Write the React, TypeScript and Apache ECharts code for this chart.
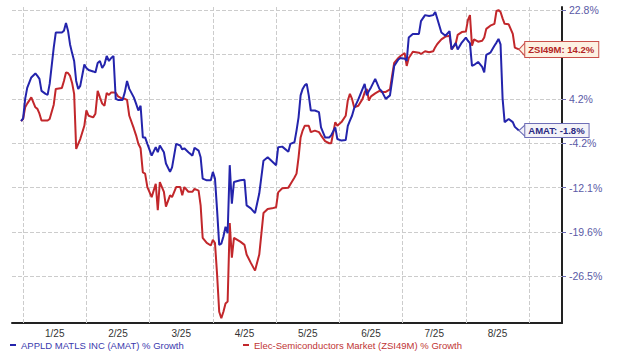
import React, { useEffect, useRef } from "react";
import * as echarts from "echarts";

// ---- data (percent growth since start) ----
const dates = [
  "2024-12-31", "2025-01-01", "2025-01-02", "2025-01-03", "2025-01-05", "2025-01-07", "2025-01-08", "2025-01-09",
  "2025-01-10", "2025-01-12", "2025-01-13", "2025-01-14", "2025-01-16", "2025-01-17", "2025-01-20", "2025-01-21",
  "2025-01-22", "2025-01-23", "2025-01-24", "2025-01-25", "2025-01-26", "2025-01-27", "2025-01-28", "2025-01-29",
  "2025-01-31", "2025-02-01", "2025-02-02", "2025-02-04", "2025-02-05", "2025-02-06", "2025-02-07", "2025-02-08",
  "2025-02-09", "2025-02-10", "2025-02-11", "2025-02-12", "2025-02-13", "2025-02-14", "2025-02-15", "2025-02-17",
  "2025-02-18", "2025-02-19", "2025-02-20", "2025-02-22", "2025-02-23", "2025-02-24", "2025-02-25", "2025-02-26",
  "2025-02-27", "2025-02-28", "2025-03-02", "2025-03-04", "2025-03-05", "2025-03-06", "2025-03-08", "2025-03-09",
  "2025-03-11", "2025-03-12", "2025-03-14", "2025-03-16", "2025-03-17", "2025-03-18", "2025-03-20", "2025-03-22",
  "2025-03-23", "2025-03-25", "2025-03-26", "2025-03-27", "2025-03-29", "2025-03-31", "2025-04-01", "2025-04-02",
  "2025-04-03", "2025-04-04", "2025-04-05", "2025-04-06", "2025-04-07", "2025-04-08", "2025-04-09", "2025-04-10",
  "2025-04-11", "2025-04-14", "2025-04-16", "2025-04-17", "2025-04-19", "2025-04-21", "2025-04-23", "2025-04-25",
  "2025-04-27", "2025-04-29", "2025-05-01", "2025-05-02", "2025-05-04", "2025-05-07", "2025-05-08", "2025-05-10",
  "2025-05-11", "2025-05-12", "2025-05-13", "2025-05-14", "2025-05-15", "2025-05-16", "2025-05-17", "2025-05-18",
  "2025-05-20", "2025-05-22", "2025-05-23", "2025-05-25", "2025-05-27", "2025-05-28", "2025-05-30", "2025-05-31",
  "2025-06-02", "2025-06-04", "2025-06-05", "2025-06-06", "2025-06-07", "2025-06-08", "2025-06-10", "2025-06-12",
  "2025-06-13", "2025-06-14", "2025-06-15", "2025-06-16", "2025-06-18", "2025-06-20", "2025-06-21", "2025-06-23",
  "2025-06-25", "2025-06-26", "2025-06-27", "2025-06-29", "2025-06-30", "2025-07-01", "2025-07-02", "2025-07-03",
  "2025-07-04", "2025-07-05", "2025-07-06", "2025-07-09", "2025-07-10", "2025-07-12", "2025-07-14", "2025-07-16",
  "2025-07-17", "2025-07-18", "2025-07-20", "2025-07-22", "2025-07-24", "2025-07-25", "2025-07-27", "2025-07-28",
  "2025-07-30", "2025-08-01", "2025-08-02", "2025-08-03", "2025-08-04", "2025-08-05", "2025-08-07", "2025-08-09",
  "2025-08-10", "2025-08-11", "2025-08-13", "2025-08-15", "2025-08-16", "2025-08-17", "2025-08-18", "2025-08-19",
  "2025-08-20", "2025-08-22", "2025-08-24", "2025-08-25", "2025-08-27",
];

const amatGrowth = [
  0.0, 0.5, 4.2, 6.4, 8.5, 9.3, 8.8, 8.2,
  5.8, 5.2, 5.0, 7.2, 14.6, 17.9, 17.9, 18.3,
  20.0, 18.3, 15.3, 13.4, 11.8, 7.8, 6.2, 6.8,
  11.1, 10.4, 10.0, 9.7, 9.5, 11.4, 11.8, 10.4,
  11.1, 12.8, 11.8, 12.4, 12.8, 4.2, 4.0, 4.0,
  5.5, 7.8, 6.2, 4.5, 3.3, 2.0, 2.9, -3.1,
  -3.1, -4.3, -6.4, -4.9, -5.8, -4.6, -5.8, -7.8,
  -9.3, -8.5, -4.3, -4.6, -5.3, -5.1, -5.8, -6.4,
  -5.0, -5.5, -6.7, -10.5, -10.8, -10.8, -9.3, -10.5,
  -15.9, -21.6, -21.4, -20.3, -18.7, -19.8, -8.1, -14.8,
  -11.1, -10.8, -10.7, -15.1, -15.6, -16.4, -13.1, -7.3,
  -6.7, -7.4, -8.1, -4.9, -4.8, -5.7, -4.3, -4.0,
  -1.8, 0.7, 4.9, 6.2, 6.9, 7.2, 4.9, 2.0,
  2.0, 1.7, -1.2, -3.1, -3.1, -2.7, -1.2, -3.4,
  -3.7, -3.6, -0.9, 0.1, 1.0, 2.4, 4.1, 6.2,
  7.2, 4.9, 5.8, 6.5, 8.2, 6.2, 5.8, 4.2,
  4.9, 7.8, 10.8, 12.1, 12.4, 12.3, 12.3, 11.8,
  16.8, 17.2, 17.6, 17.6, 20.4, 21.7, 21.5, 21.7,
  22.4, 20.9, 17.9, 17.2, 18.2, 14.2, 15.6, 14.2,
  15.7, 16.8, 16.1, 15.6, 10.8, 11.0, 11.6, 10.6,
  9.5, 13.0, 13.5, 15.0, 15.7, 16.5, 15.3, 4.3,
  -0.2, 0.4, -0.2, -1.1, -1.8,
];

const zsiGrowth = [
  0.0, 0.4, 2.6, 3.3, 4.5, 2.6, 2.3, 1.4,
  0.1, 0.1, 0.1, 0.4, 3.1, 6.2, 6.4, 7.8,
  9.5, 9.4, 8.8, 7.4, 5.2, -5.2, -4.3, -3.4,
  -0.9, 2.0, 1.0, 0.7, 1.4, 5.8, 4.5, 3.3,
  2.9, 5.4, 5.0, 5.5, 5.5, 5.4, 4.7, 4.2,
  4.2, 4.0, 1.0, -1.4, -2.7, -4.3, -5.1, -9.4,
  -9.6, -12.0, -13.7, -11.4, -15.9, -11.1, -12.8, -15.3,
  -13.4, -13.7, -12.0, -12.0, -13.4, -12.0, -12.8, -12.8,
  -12.3, -12.6, -15.1, -20.5, -21.3, -21.7, -20.8, -21.3,
  -26.2, -32.0, -33.0, -32.0, -30.7, -30.4, -18.1, -23.6,
  -20.5, -21.1, -21.6, -23.1, -24.4, -25.6, -23.1, -16.4,
  -15.7, -15.6, -15.4, -12.9, -12.2, -12.1, -11.5, -10.3,
  -9.6, -6.7, -3.1, -1.8, -0.9, -0.9, -0.9, -2.1,
  -1.8, -2.1, -2.7, -3.8, -4.2, -4.2, -0.2, -0.9,
  -0.2, 1.0, 3.9, 5.2, 4.2, 2.6, 2.9, 4.2,
  5.5, 6.2, 3.9, 4.7, 5.3, 5.8, 5.6, 5.6,
  6.1, 8.8, 11.4, 12.4, 12.8, 13.1, 13.4, 10.8,
  12.4, 13.0, 13.7, 13.5, 13.2, 13.8, 13.6, 13.8,
  14.7, 15.4, 16.4, 17.0, 17.2, 14.2, 15.4, 17.4,
  18.0, 18.1, 20.6, 21.7, 15.0, 16.4, 15.9, 16.1,
  16.8, 18.7, 19.4, 19.8, 22.6, 22.8, 22.4, 21.0,
  19.8, 19.7, 17.6, 14.6, 14.2,
];

const yTickValues = [-26.5, -19.6, -12.1, -4.2, 4.2, 13.1, 22.8];
const yTickLabels = ["-26.5%", "-19.6%", "-12.1%", "-4.2%", "4.2%", "", "22.8%"];
const monthStarts = [
  "2025-01-01", "2025-02-01", "2025-03-01", "2025-04-01", "2025-05-01",
  "2025-06-01", "2025-07-01", "2025-08-01", "2025-09-01",
];
const monthLabels = ["1/25", "2/25", "3/25", "4/25", "5/25", "6/25", "7/25", "8/25"];
const amatName = "APPLD MATLS INC (AMAT) % Growth";
const zsiName = "Elec-Semiconductors Market (ZSI49M) % Growth";
const amatTag = "AMAT: -1.8%";
const zsiTag = "ZSI49M: 14.2%";

const FONT = "'Liberation Sans', Arial, sans-serif";
const BLUE = "#2424ac";
const RED = "#c2272b";

const daysIn = [31, 28, 31, 30, 31, 30, 31, 31, 30, 31, 30, 31];

// date -> month position (0 = Jan 1 2025, 1 = Feb 1, ...)
function monthPos(d: string): number {
  const [y, m, day] = d.split("-").map(Number);
  if (y < 2025) return -1 + (day - 1) / 31;
  return m - 1 + (day - 1) / daysIn[m - 1];
}

// percent -> position on the chart's (piecewise) value scale, in tick-index units
function toIdx(p: number): number {
  const t = yTickValues;
  let i = 0;
  if (p >= t[t.length - 1]) i = t.length - 2;
  else if (p > t[0]) {
    while (p > t[i + 1]) i++;
  }
  return i + (p - t[i]) / (t[i + 1] - t[i]);
}

const TIP_PATH = "path://M0,6 L8,0 L8,12 Z";

export default function App() {
  const ref = useRef<HTMLDivElement>(null);

  useEffect(() => {
    document.body.style.margin = "0";
    if (!ref.current) return;
    const chart = echarts.init(ref.current, undefined, { renderer: "svg" });

    const amatData = dates.map((d, i) => [monthPos(d), toIdx(amatGrowth[i])]);
    const zsiData = dates.map((d, i) => [monthPos(d), toIdx(zsiGrowth[i])]);
    const amatLast = amatData[amatData.length - 1];
    const zsiLast = zsiData[zsiData.length - 1];
    const monthGrid = monthStarts.map(monthPos);
    const yGrid = yTickValues.map(toIdx);
    const labelPos = monthLabels.map((_, i) => (monthGrid[i] + monthGrid[i + 1]) / 2);

    const tag = (text: string, fill: string, border: string, txt: string, h: number, coord: number[]) => ({
      silent: true,
      z: 6,
      symbol: TIP_PATH,
      symbolSize: [7, h],
      symbolOffset: ["50%", 0],
      symbolKeepAspect: false,
      itemStyle: { color: fill, borderColor: border, borderWidth: 1 },
      label: {
        show: true,
        position: "right",
        distance: -1,
        formatter: text,
        color: txt,
        fontWeight: "bold",
        fontSize: 9.5,
        fontFamily: FONT,
        backgroundColor: fill,
        borderColor: border,
        borderWidth: 1,
        borderRadius: 0,
        padding: [2, 4, 1, 3],
        lineHeight: h - 3,
      },
      data: [{ coord }],
    });

    chart.setOption({
      animation: false,
      grid: { left: 12, right: 58, top: 7, bottom: 33 },
      xAxis: {
        type: "value",
        min: -0.176,
        max: 8.52,
        axisLine: { show: true, onZero: false, lineStyle: { color: "#222", width: 2 } },
        axisTick: { show: false },
        axisLabel: {
          customValues: labelPos,
          formatter: (v: number) => monthLabels[Math.floor(v)] ?? "",
          color: "#333",
          fontSize: 10,
          fontFamily: FONT,
          margin: 5,
        },
        splitLine: { show: false },
      },
      yAxis: {
        type: "value",
        position: "right",
        min: -1.05,
        max: 6.07,
        axisLine: { show: true, onZero: false, lineStyle: { color: "#222", width: 2 } },
        axisTick: {
          show: true,
          customValues: yGrid,
          length: 4,
          lineStyle: { color: "#6a6ab2" },
        },
        axisLabel: {
          customValues: [0, 1, 2, 3, 4, 6],
          formatter: (v: number) => yTickLabels[Math.round(v)] ?? "",
          color: "#5a5aa6",
          fontSize: 10.5,
          fontFamily: FONT,
          margin: 7,
        },
        splitLine: { show: false },
      },
      legend: [
        {
          left: 10,
          top: 340,
          padding: 0,
          icon: "rect",
          itemWidth: 6,
          itemHeight: 2,
          data: [{ name: amatName, textStyle: { color: "#3a3aae" } }],
          textStyle: { fontSize: 9.5, fontFamily: FONT },
        },
        {
          left: 243,
          top: 340,
          padding: 0,
          icon: "rect",
          itemWidth: 6,
          itemHeight: 2,
          data: [{ name: zsiName, textStyle: { color: "#c03434" } }],
          textStyle: { fontSize: 9.5, fontFamily: FONT },
        },
      ],
      series: [
        {
          name: zsiName,
          type: "line",
          z: 3,
          data: zsiData,
          showSymbol: false,
          lineStyle: { color: RED, width: 2 },
          itemStyle: { color: RED },
          markLine: {
            silent: true,
            z: 1,
            symbol: ["none", "none"],
            label: { show: false },
            lineStyle: { color: "#cccccc", type: "dashed", width: 1 },
            emphasis: { disabled: true },
            data: [
              ...yGrid.map((v) => ({ yAxis: v })),
              ...monthGrid.map((v) => ({ xAxis: v })),
            ],
          },
          markPoint: tag(zsiTag, "#fdf1e2", "#c9504a", "#b32525", 15, zsiLast),
        },
        {
          name: amatName,
          type: "line",
          z: 4,
          data: amatData,
          showSymbol: false,
          lineStyle: { color: BLUE, width: 2 },
          itemStyle: { color: BLUE },
          markPoint: tag(amatTag, "#f3f2f8", "#6d6db6", "#2a2a82", 13, amatLast),
        },
      ],
    });

    return () => chart.dispose();
  }, []);

  return <div ref={ref} style={{ width: 620, height: 356 }} />;
}
